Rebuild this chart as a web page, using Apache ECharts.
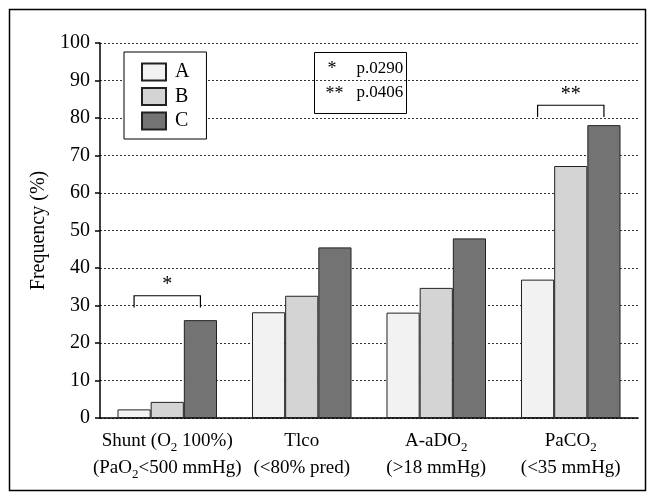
<!DOCTYPE html>
<html>
<head>
<meta charset="utf-8">
<script src="https://cdn.jsdelivr.net/npm/echarts@6/dist/echarts.min.js"></script>
<style>
  html, body { margin: 0; padding: 0; background: #fff; }
  #chart { width: 650px; height: 496px; }
</style>
</head>
<body>
<div id="chart"></div>
<script>
// categories (rich text with subscripts)
const categories = [
  "Shunt (O{sub|2} 100%)\n(PaO{sub|2}<500 mmHg)",
  "Tlco\n(<80% pred)",
  "A-aDO{sub|2}\n(>18 mmHg)",
  "PaCO{sub|2}\n(<35 mmHg)"
];
const groupNames = ["A", "B", "C"];
const valuesA = [2.3, 28.2, 28.1, 36.9];
const valuesB = [4.3, 32.6, 34.7, 67.2];
const valuesC = [26.1, 45.5, 47.9, 78.1];
const groupColors = ["#f2f2f2", "#d4d4d4", "#737373"];

// significance brackets: category index, bracket top value, label
const bracketCats = [0, 3];
const bracketTops = [32.6, 83.4];
const bracketLabels = ["*", "**"];
const pLabels = ["*", "**"];
const pValues = ["p.0290", "p.0406"];

const FONT = "Liberation Serif";
const CAT_GAP = 0.26;

const chart = echarts.init(document.getElementById("chart"));

const barSeries = [valuesA, valuesB, valuesC].map((vals, i) => ({
  name: groupNames[i],
  type: "bar",
  data: vals,
  barGap: "0%",
  barCategoryGap: CAT_GAP * 100 + "%",
  itemStyle: { color: groupColors[i], borderColor: "#222", borderWidth: 1 },
  emphasis: { disabled: true }
}));

const option = {
  animation: false,
  textStyle: { fontFamily: FONT, color: "#000" },
  grid: { left: 100, right: 12, top: 43, bottom: 78 },
  legend: {
    data: groupNames,
    orient: "vertical",
    left: 124,
    top: 52,
    itemWidth: 24,
    itemHeight: 17,
    itemGap: 4.5,
    padding: [10, 17, 8, 17],
    borderColor: "#000",
    borderWidth: 1,
    backgroundColor: "#fff",
    icon: "rect",
    selectedMode: false,
    textStyle: { fontFamily: FONT, fontSize: 20, color: "#000", padding: [0, 0, 0, 4] }
  },
  xAxis: {
    type: "category",
    data: categories,
    axisLine: { lineStyle: { color: "#000", width: 1.5 } },
    axisTick: { lineStyle: { color: "#000", width: 1.5 }, length: 6 },
    axisLabel: {
      interval: 0,
      margin: 10,
      fontFamily: FONT,
      fontSize: 19,
      color: "#000",
      lineHeight: 27,
      rich: {
        sub: { fontFamily: FONT, fontSize: 13, color: "#000", padding: [12, 0, 0, 0], lineHeight: 27 }
      }
    }
  },
  yAxis: {
    type: "value",
    min: 0,
    max: 100,
    interval: 10,
    name: "Frequency (%)",
    nameLocation: "middle",
    nameGap: 50,
    nameTextStyle: { fontFamily: FONT, fontSize: 20, color: "#000" },
    axisLine: { show: true, lineStyle: { color: "#000", width: 1.5 } },
    axisTick: { show: true, length: 5, lineStyle: { color: "#000", width: 1.5 } },
    axisLabel: { fontFamily: FONT, fontSize: 20, color: "#000", margin: 10 },
    splitLine: { lineStyle: { color: "#333", type: [2, 2], width: 1 } }
  },
  series: barSeries.concat([{
    type: "custom",
    name: "brackets",
    silent: true,
    z: 5,
    data: bracketCats.map((c, i) => [c, bracketTops[i]]),
    renderItem: function (params, api) {
      const c = api.value(0), top = api.value(1);
      const band = api.size([1, 0])[0];
      const bw = band * (1 - CAT_GAP) / 3;
      const p = api.coord([c, top]);
      const p0 = api.coord([c, top - 3.1]);
      const x1 = p[0] - bw, x2 = p[0] + bw;
      return {
        type: "group",
        children: [
          {
            type: "polyline",
            shape: { points: [[x1, p0[1]], [x1, p[1]], [x2, p[1]], [x2, p0[1]]] },
            style: { stroke: "#000", lineWidth: 1.2, fill: null }
          },
          {
            type: "text",
            style: {
              text: bracketLabels[params.dataIndex],
              x: p[0], y: p[1] - 1,
              align: "center", verticalAlign: "bottom",
              fontFamily: FONT, fontSize: 20, fill: "#000"
            }
          }
        ]
      };
    }
  }]),
  graphic: [
    {
      type: "rect",
      left: 7, top: 7,
      shape: { width: 636, height: 481 },
      style: { fill: null, stroke: "#000", lineWidth: 1.5 },
      z: 100
    },
    {
      type: "group",
      left: 314, top: 52,
      z: 100,
      children: [
        { type: "rect", shape: { x: 0, y: 0, width: 92, height: 61 }, style: { fill: "#fff", stroke: "#000", lineWidth: 1 } },
        { type: "text", x: 13, y: 8, style: { text: pLabels[0], fontFamily: FONT, fontSize: 18, fill: "#000" } },
        { type: "text", x: 42, y: 8, style: { text: pValues[0], fontFamily: FONT, fontSize: 17, fill: "#000" } },
        { type: "text", x: 11, y: 33, style: { text: pLabels[1], fontFamily: FONT, fontSize: 18, fill: "#000" } },
        { type: "text", x: 42, y: 32, style: { text: pValues[1], fontFamily: FONT, fontSize: 17, fill: "#000" } }
      ]
    }
  ]
};

chart.setOption(option);
</script>
</body>
</html>
